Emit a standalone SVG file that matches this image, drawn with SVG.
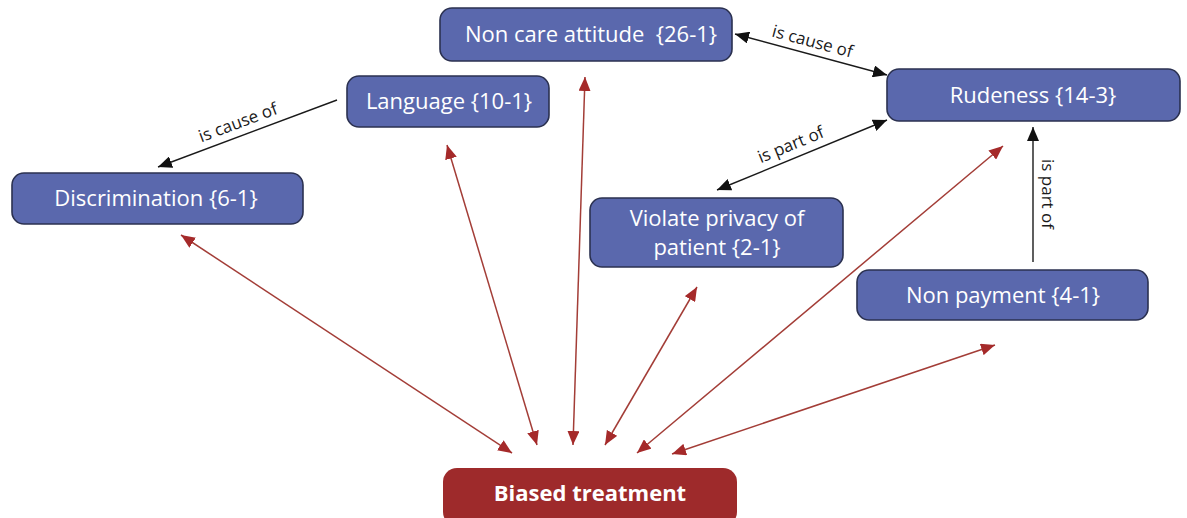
<svg xmlns="http://www.w3.org/2000/svg" width="1187" height="518" viewBox="0 0 1187 518">
  <defs>
    <style>
      .node rect { fill: #5a68ad; stroke: #2b3150; stroke-width: 1.6; }
      .node text { fill: #ffffff; font-family: "Open Sans", "Liberation Sans", sans-serif; font-size: 22px; text-anchor: middle; }
      .core rect { fill: #9e2a2b; stroke: none; }
      .core text { fill: #ffffff; font-family: "Open Sans", "Liberation Sans", sans-serif; font-size: 22px; font-weight: bold; text-anchor: middle; }
      .link { fill: none; stroke: #1a1a1a; stroke-width: 1.4; }
      .rlink { fill: none; stroke: #a33d37; stroke-width: 1.5; }
      .lbl { fill: #1a1a1a; font-family: "Open Sans", "Liberation Sans", sans-serif; font-size: 17px; text-anchor: middle; }
    </style>
    <marker id="ah" viewBox="0 0 14 12" refX="14" refY="6" markerWidth="14" markerHeight="12" markerUnits="userSpaceOnUse" orient="auto-start-reverse">
      <path d="M0,0 L14,6 L0,12 z" fill="#111111"/>
    </marker>
    <marker id="rh" viewBox="0 0 14 12" refX="14" refY="6" markerWidth="14" markerHeight="12" markerUnits="userSpaceOnUse" orient="auto-start-reverse">
      <path d="M0,0 L14,6 L0,12 z" fill="#a52a2a"/>
    </marker>
  </defs>

  <rect x="0" y="0" width="1187" height="518" fill="#ffffff"/>

  <!-- connectors -->
  <g id="connectors">
    <!-- black relations -->
    <line class="link" x1="735" y1="34" x2="887" y2="75" marker-start="url(#ah)" marker-end="url(#ah)"/>
    <line class="link" x1="337" y1="100" x2="158" y2="167" marker-end="url(#ah)"/>
    <line class="link" x1="717" y1="190" x2="887" y2="120" marker-start="url(#ah)" marker-end="url(#ah)"/>
    <line class="link" x1="1033" y1="262" x2="1033" y2="127" marker-end="url(#ah)"/>
    <text class="lbl" transform="translate(811,47) rotate(15)">is cause of</text>
    <text class="lbl" transform="translate(240,128) rotate(-20.5)">is cause of</text>
    <text class="lbl" transform="translate(793,150) rotate(-22.4)">is part of</text>
    <text class="lbl" transform="translate(1042,194) rotate(90)">is part of</text>

    <!-- red links to biased treatment -->
    <line class="rlink" x1="181" y1="235" x2="512" y2="453" marker-start="url(#rh)" marker-end="url(#rh)"/>
    <line class="rlink" x1="447" y1="145" x2="537" y2="445" marker-start="url(#rh)" marker-end="url(#rh)"/>
    <line class="rlink" x1="585" y1="77" x2="573" y2="445" marker-start="url(#rh)" marker-end="url(#rh)"/>
    <line class="rlink" x1="697" y1="287" x2="605" y2="445" marker-start="url(#rh)" marker-end="url(#rh)"/>
    <line class="rlink" x1="1003" y1="146" x2="637" y2="453" marker-start="url(#rh)" marker-end="url(#rh)"/>
    <line class="rlink" x1="995" y1="345" x2="672" y2="454" marker-start="url(#rh)" marker-end="url(#rh)"/>
  </g>

  <!-- nodes -->
  <g id="non-care" class="node">
    <rect x="440" y="8" width="292" height="53" rx="12"/>
    <text x="591" y="42" xml:space="preserve">Non care attitude  {26-1}</text>
  </g>
  <g id="language" class="node">
    <rect x="347" y="76" width="202" height="51" rx="12"/>
    <text x="449" y="109">Language {10-1}</text>
  </g>
  <g id="discrimination" class="node">
    <rect x="12" y="173" width="291" height="51" rx="12"/>
    <text x="156" y="206">Discrimination {6-1}</text>
  </g>
  <g id="rudeness" class="node">
    <rect x="887" y="69" width="293" height="52" rx="12"/>
    <text x="1033" y="103">Rudeness {14-3}</text>
  </g>
  <g id="violate-privacy" class="node">
    <rect x="590" y="198" width="253" height="69" rx="12"/>
    <text x="717" y="226">Violate privacy of</text>
    <text x="717" y="255">patient {2-1}</text>
  </g>
  <g id="non-payment" class="node">
    <rect x="857" y="270" width="291" height="50" rx="12"/>
    <text x="1003" y="303">Non payment {4-1}</text>
  </g>
  <g id="biased-treatment" class="core">
    <rect x="443" y="468" width="294" height="58" rx="14"/>
    <text x="590" y="501">Biased treatment</text>
  </g>
</svg>
